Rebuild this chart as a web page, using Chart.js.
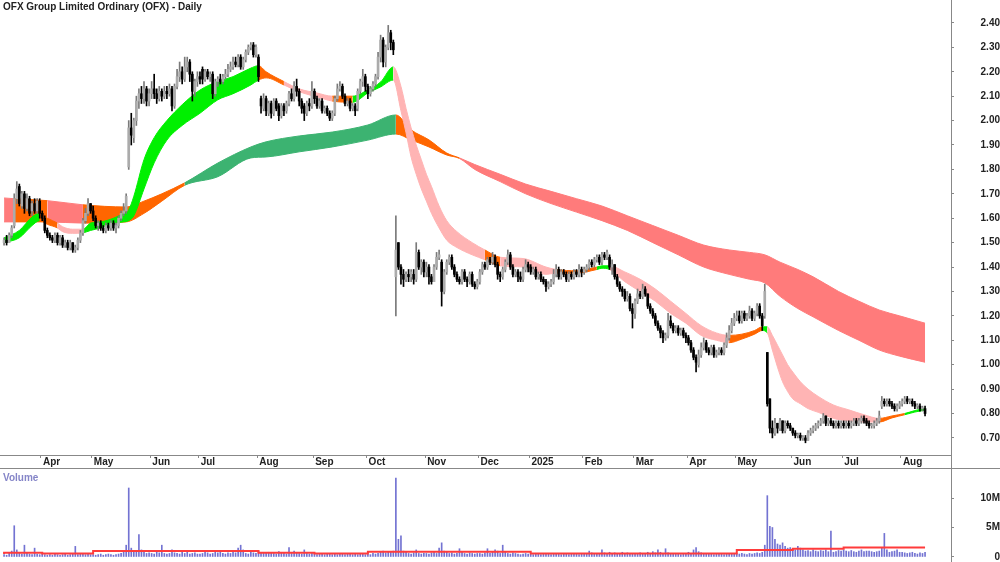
<!DOCTYPE html>
<html lang="en">

<head>
    <meta charset="UTF-8">
    <title>OFX Group Limited Ordinary (OFX) - Daily</title>
    <script src="https://cdn.jsdelivr.net/npm/chart.js"></script>
    <style>
        body { margin: 0; background: #fff; }
        #quadro { position: relative; width: 1000px; height: 562px; overflow: hidden; font-family: Arial, "Liberation Sans", sans-serif; }
        #grafico-preco { position: absolute; left: 0; top: 0; }
        #grafico-volume { position: absolute; left: 0; top: 469px; }
        .titulo { position: absolute; left: 3px; top: 1px; font-size: 10px; font-weight: bold; color: #222; white-space: nowrap; }
        .rotulo-volume { position: absolute; left: 3px; top: 472px; font-size: 10px; font-weight: bold; color: #8585c8; }
    </style>
</head>

<body>
    <div id="quadro">
        <canvas id="grafico-preco" width="1000" height="469"></canvas>
        <canvas id="grafico-volume" width="1000" height="93"></canvas>
        <div class="titulo">OFX Group Limited Ordinary (OFX) - Daily</div>
        <div class="rotulo-volume">Volume</div>
    </div>
</body>

</html>

<script>

    // x axis: one step per trading day, first bar is 8 Mar 2024
    const monthLabels = ['Apr', 'May', 'Jun', 'Jul', 'Aug', 'Sep', 'Oct', 'Nov', 'Dec', '2025', 'Feb', 'Mar', 'Apr', 'May', 'Jun', 'Jul', 'Aug'];
    const monthStarts = [15, 35, 58, 77, 100, 122, 143, 166, 187, 207, 228, 248, 269, 288, 310, 330, 353];
    const priceTicks = [0.7, 0.8, 0.9, 1.0, 1.1, 1.2, 1.3, 1.4, 1.5, 1.6, 1.7, 1.8, 1.9, 2.0, 2.1, 2.2, 2.3, 2.4];
    const volumeTicks = [0, 5, 10]; // millions

    // daily prices in cents, one row per month
    const opens = [
        150, 151, 150, 153, 157, 168, 173, 165, 170, 164, 168, 163, 166, 163, 167,
        162, 160, 155, 153, 152, 151, 153, 150, 152, 149, 150, 148, 150, 147, 148, 151, 154, 159, 162, 166,
        163, 160, 157, 158, 156, 155, 157, 156, 158, 156, 157, 160, 162, 163, 181, 197, 193, 200, 208, 211, 209, 213, 208,
        211, 213, 211, 209, 212, 210, 212, 211, 213, 206, 214, 218, 220, 217, 222, 224, 219, 212, 216,
        218, 221, 217, 220, 218, 219, 211, 216, 217, 216, 218, 219, 221, 222, 224, 223, 226, 222, 225, 228, 230, 231, 227,
        226, 209, 205, 209, 203, 207, 203, 208, 206, 202, 206, 204, 207, 211, 209, 214, 212, 208, 206, 203, 207, 206,
        212, 209, 206, 208, 204, 205, 203, 201, 203, 209, 213, 214, 210, 207, 208, 205, 206, 205, 212, 216, 218,
        214, 211, 213, 215, 218, 226, 233, 224, 230, 236, 232, 136, 150, 140, 137, 135, 137, 136, 137, 135, 146, 140, 142,
        138, 140, 136, 134, 140, 144, 142, 130, 138, 142, 144, 140, 137, 135, 134, 138, 135, 134, 137, 133, 132,
        134, 138, 141, 140, 143, 142, 144, 141, 137, 136, 139, 142, 145, 140, 137, 138, 136, 135, 139, 141,
        140, 138, 139, 136, 137, 135, 134, 132, 133, 134, 137, 139, 136, 138, 137, 135, 137, 136, 138, 137, 139,
        138, 139, 140, 142, 141, 143, 144, 142, 145, 144, 144, 140, 141, 136, 133, 131, 130, 127, 128, 123,
        121, 126, 129, 128, 131, 129, 124, 122, 120, 117, 115, 113, 111, 112, 118, 116, 114, 115, 113, 114, 112,
        111, 109, 106, 103, 100, 104, 107, 109, 106, 105, 107, 104, 105, 106, 105, 108, 111, 114, 117,
        119, 120, 118, 121, 119, 120, 122, 119, 121, 124, 120, 120, 105, 86, 74, 72, 76, 74, 77, 73, 76, 75,
        74, 72, 71, 71, 70, 70, 69, 72, 73, 74, 75, 76, 77, 79, 76, 77, 76, 75, 76, 75,
        76, 75, 76, 75, 76, 77, 76, 77, 78, 77, 76, 75, 75, 76, 77, 83, 85, 84, 85, 84, 83, 82, 83,
        84, 85, 86, 85, 85, 84, 83, 83, 82, 82
    ];
    const highs = [
        152, 153, 154, 157, 170, 175, 174, 171, 171, 170, 169, 167, 168, 168, 168,
        163, 161, 156, 154, 153, 154, 154, 153, 153, 151, 151, 151, 150, 149, 152, 155, 160, 164, 168, 166,
        165, 161, 159, 159, 157, 158, 158, 159, 159, 158, 161, 163, 166, 170, 200, 203, 201, 210, 213, 214, 216, 214, 213,
        216, 219, 213, 214, 213, 214, 214, 215, 214, 215, 221, 224, 222, 226, 226, 225, 220, 217, 220,
        220, 222, 221, 221, 220, 220, 217, 218, 219, 219, 221, 223, 224, 226, 226, 227, 227, 226, 229, 231, 232, 232, 231,
        227, 210, 211, 210, 208, 208, 209, 209, 207, 207, 207, 208, 212, 213, 216, 217, 213, 209, 207, 208, 209, 216,
        213, 210, 209, 209, 206, 206, 204, 204, 210, 215, 216, 215, 211, 209, 209, 207, 207, 213, 217, 221, 219,
        215, 214, 216, 219, 228, 235, 234, 231, 239, 237, 233, 161, 150, 141, 139, 138, 139, 139, 139, 150, 147, 143, 143,
        142, 141, 137, 141, 146, 147, 143, 139, 143, 145, 145, 141, 138, 136, 139, 139, 136, 138, 138, 134, 135,
        139, 142, 142, 144, 144, 146, 145, 142, 138, 140, 143, 147, 146, 141, 139, 139, 138, 140, 143, 142,
        141, 140, 140, 138, 138, 136, 135, 134, 135, 139, 141, 140, 139, 139, 138, 138, 138, 139, 139, 141, 140,
        140, 141, 143, 143, 144, 145, 145, 146, 146, 147, 145, 143, 141, 137, 134, 132, 131, 130, 129, 125,
        127, 131, 130, 133, 132, 129, 125, 123, 121, 118, 116, 114, 113, 121, 120, 117, 116, 116, 115, 115, 113,
        112, 110, 107, 104, 106, 109, 111, 110, 107, 108, 108, 106, 107, 107, 109, 113, 116, 119, 121,
        122, 122, 122, 122, 121, 124, 123, 122, 125, 125, 121, 133, 105, 86, 77, 78, 76, 78, 77, 77, 77, 76,
        74, 73, 72, 72, 71, 71, 73, 74, 75, 76, 77, 78, 80, 79, 78, 78, 77, 77, 77, 77,
        77, 77, 77, 77, 78, 78, 78, 79, 79, 78, 77, 76, 77, 78, 81, 87, 86, 86, 86, 85, 84, 84, 85,
        86, 87, 87, 86, 86, 85, 84, 84, 83, 83
    ];
    const lows = [
        149, 149, 150, 152, 156, 166, 165, 164, 162, 163, 161, 161, 162, 162, 160,
        159, 154, 152, 151, 150, 150, 149, 149, 148, 148, 147, 147, 146, 146, 147, 150, 153, 158, 161, 162,
        159, 156, 155, 155, 154, 154, 155, 155, 155, 154, 156, 159, 161, 162, 180, 190, 191, 198, 205, 207, 207, 206, 206,
        209, 209, 207, 208, 208, 209, 209, 210, 204, 205, 213, 216, 215, 216, 220, 216, 208, 210, 214,
        215, 215, 216, 217, 216, 209, 210, 214, 215, 215, 217, 218, 220, 221, 222, 222, 221, 221, 224, 227, 229, 226, 226,
        216, 203, 204, 202, 202, 201, 202, 204, 200, 201, 202, 203, 206, 208, 208, 210, 206, 203, 200, 202, 204, 205,
        207, 205, 205, 203, 203, 202, 200, 200, 202, 208, 212, 209, 206, 206, 204, 204, 202, 204, 211, 214, 212,
        209, 210, 212, 214, 217, 224, 222, 222, 229, 229, 227, 120, 139, 133, 132, 134, 134, 134, 133, 134, 139, 137, 136,
        136, 133, 133, 134, 139, 143, 124, 129, 137, 141, 139, 136, 134, 133, 133, 134, 132, 133, 132, 131, 131,
        133, 137, 139, 139, 141, 141, 140, 135, 134, 135, 138, 141, 139, 136, 136, 134, 134, 134, 138, 138,
        137, 137, 135, 135, 134, 133, 130, 131, 132, 133, 136, 135, 135, 136, 134, 134, 135, 135, 136, 136, 136,
        137, 138, 139, 140, 140, 142, 141, 141, 143, 143, 139, 137, 135, 132, 130, 128, 126, 126, 122, 115,
        119, 125, 127, 127, 128, 123, 121, 119, 116, 114, 111, 109, 110, 111, 115, 113, 113, 112, 112, 111, 109,
        108, 105, 102, 97, 99, 103, 106, 105, 104, 104, 103, 103, 104, 104, 104, 107, 110, 113, 116,
        118, 117, 117, 118, 118, 119, 118, 118, 120, 119, 114, 119, 83, 72, 70, 71, 72, 73, 72, 72, 74, 73,
        71, 70, 70, 69, 69, 68, 69, 71, 72, 73, 74, 75, 76, 75, 75, 75, 74, 74, 74, 74,
        74, 74, 74, 74, 75, 75, 75, 76, 76, 75, 74, 74, 74, 75, 76, 82, 83, 83, 83, 82, 81, 81, 82,
        83, 84, 84, 84, 83, 82, 82, 81, 81, 79
    ];
    const closes = [
        151, 150, 153, 156, 168, 172, 166, 170, 164, 168, 162, 166, 163, 167, 162,
        160, 155, 153, 152, 151, 153, 150, 152, 149, 150, 148, 150, 147, 148, 151, 154, 159, 162, 166, 163,
        160, 157, 158, 156, 155, 157, 156, 158, 156, 157, 160, 162, 163, 169, 197, 194, 200, 208, 211, 209, 213, 208, 211,
        213, 211, 209, 212, 210, 212, 211, 213, 206, 214, 218, 220, 217, 222, 224, 219, 212, 216, 218,
        217, 217, 220, 218, 219, 211, 216, 217, 216, 218, 219, 221, 222, 224, 223, 226, 222, 225, 228, 230, 231, 227, 230,
        218, 206, 209, 204, 207, 203, 208, 205, 202, 206, 204, 207, 211, 209, 214, 212, 208, 205, 203, 207, 206, 212,
        209, 206, 208, 204, 205, 203, 201, 203, 209, 213, 214, 210, 207, 208, 205, 206, 204, 212, 216, 218, 214,
        211, 213, 215, 218, 226, 233, 224, 230, 236, 232, 229, 147, 140, 137, 135, 137, 136, 138, 135, 146, 140, 142, 138,
        140, 136, 134, 140, 144, 145, 130, 138, 142, 144, 140, 137, 135, 134, 138, 135, 134, 137, 133, 132, 134,
        138, 141, 140, 143, 142, 144, 141, 137, 136, 139, 142, 145, 140, 137, 138, 136, 135, 139, 141, 140,
        138, 139, 136, 137, 135, 134, 132, 133, 134, 137, 139, 136, 138, 137, 135, 137, 136, 138, 137, 139, 138,
        139, 140, 142, 141, 143, 144, 142, 145, 144, 146, 140, 141, 136, 133, 131, 130, 127, 128, 123, 121,
        126, 129, 128, 131, 129, 124, 122, 120, 117, 115, 113, 111, 112, 118, 116, 114, 115, 113, 114, 112, 111,
        109, 106, 103, 101, 104, 107, 109, 106, 105, 107, 104, 105, 106, 105, 108, 111, 114, 117, 119,
        120, 118, 121, 119, 120, 122, 119, 121, 124, 120, 116, 130, 84, 74, 72, 76, 74, 77, 73, 76, 75, 74,
        72, 71, 71, 70, 70, 69, 72, 73, 74, 75, 76, 77, 79, 76, 77, 76, 75, 76, 75, 76,
        75, 76, 75, 76, 77, 76, 77, 78, 77, 76, 75, 75, 76, 77, 79, 85, 84, 85, 84, 83, 82, 83, 84,
        85, 86, 85, 85, 84, 83, 83, 82, 82, 80
    ];

    // daily volume in millions
    const volumes = [
        0.4, 0.3, 0.6, 1.0, 5.3, 1.2, 0.7, 0.5, 2.0, 0.6, 0.5, 0.4, 1.5, 0.5, 0.4,
        0.5, 0.4, 0.3, 0.4, 0.3, 0.5, 0.4, 0.3, 0.4, 0.6, 0.3, 0.4, 0.5, 1.8, 0.4, 0.5, 0.6, 0.4, 0.5, 0.4,
        0.4, 0.3, 0.4, 0.5, 0.3, 0.4, 0.5, 0.4, 0.3, 0.4, 0.5, 0.6, 0.8, 2.0, 11.7, 1.5, 0.8, 1.0, 3.8, 1.2, 0.8, 0.6, 0.7,
        0.6, 0.5, 0.8, 0.7, 2.0, 0.6, 0.5, 0.6, 1.2, 0.7, 0.6, 0.5, 0.8, 0.6, 1.0, 0.5, 0.6, 0.7, 0.5,
        0.5, 0.6, 0.8, 0.7, 0.5, 0.6, 0.9, 0.7, 0.8, 0.6, 0.5, 0.7, 0.6, 0.8, 0.7, 1.5, 2.0, 1.2, 0.6, 0.5, 0.8, 0.7, 0.6,
        1.0, 0.8, 0.7, 0.6, 0.8, 0.7, 0.6, 0.5, 0.9, 0.7, 0.6, 0.5, 1.6, 0.6, 1.0, 0.7, 0.6, 0.5, 1.2, 0.6, 0.5, 0.6,
        0.5, 0.4, 0.6, 0.5, 0.4, 0.5, 0.6, 0.4, 0.5, 0.4, 0.6, 0.5, 0.4, 0.5, 0.6, 0.4, 0.5, 0.4, 0.5, 0.6, 0.4,
        0.5, 0.4, 0.6, 0.5, 0.6, 0.8, 1.0, 0.7, 0.9, 0.8, 1.0, 13.4, 3.0, 3.6, 1.0, 0.8, 0.6, 0.5, 0.7, 1.2, 0.6, 0.5, 0.6,
        0.6, 0.5, 0.7, 0.8, 0.6, 1.5, 2.4, 1.0, 0.8, 0.6, 0.7, 0.5, 0.6, 1.4, 0.8, 0.6, 0.5, 0.7, 0.6, 0.5, 0.6,
        0.6, 0.5, 0.7, 1.4, 0.6, 0.8, 1.2, 1.0, 0.6, 2.0, 0.8, 0.6, 0.5, 0.7, 0.6, 0.5, 0.4, 0.5, 0.6, 0.5,
        0.5, 0.4, 0.6, 0.5, 0.4, 0.5, 0.6, 0.5, 0.4, 0.5, 0.6, 0.5, 0.4, 0.6, 0.5, 0.4, 0.5, 0.6, 0.5, 0.4, 0.5,
        0.6, 0.5, 1.0, 0.7, 0.6, 0.5, 0.6, 1.2, 0.7, 0.6, 0.8, 0.6, 0.7, 0.6, 0.5, 0.8, 0.6, 0.7, 0.6, 0.5,
        0.6, 0.5, 0.7, 0.6, 0.5, 0.8, 0.6, 0.9, 0.7, 1.2, 0.8, 0.6, 1.4, 0.7, 0.6, 0.5, 0.6, 0.5, 0.4, 0.5, 0.6,
        0.8, 0.6, 1.2, 1.6, 0.9, 0.7, 0.6, 0.5, 0.6, 0.5, 0.4, 0.5, 0.6, 0.5, 0.4, 0.5, 0.6, 0.5, 0.6,
        0.6, 0.5, 0.6, 0.5, 0.4, 0.6, 0.5, 0.6, 0.7, 0.6, 0.8, 2.0, 10.4, 5.2, 5.0, 3.0, 2.2, 2.0, 2.4, 1.8, 1.5, 1.6,
        1.4, 1.2, 1.8, 1.5, 1.2, 1.0, 1.1, 0.9, 1.2, 1.0, 0.9, 1.1, 1.0, 1.2, 0.9, 4.4, 0.8, 0.9, 1.1, 1.0,
        1.2, 1.0, 0.9, 1.1, 0.9, 0.8, 1.0, 1.2, 0.9, 1.0, 1.0, 0.9, 0.8, 0.9, 1.0, 1.5, 4.0, 1.2, 0.8, 0.9, 1.0, 1.2, 0.8,
        0.8, 0.7, 0.6, 0.7, 0.8, 0.6, 0.5, 0.7, 0.6, 0.8
    ];

    // average volume, stepped at each month
    const avgVolX = [0, 15, 35, 58, 77, 100, 122, 143, 166, 187, 207, 228, 248, 269, 288, 310, 330, 353, 362];
    const avgVol = [0.5, 0.7, 0.6, 1.0, 1.0, 1.0, 0.7, 0.6, 0.9, 0.9, 0.9, 0.6, 0.6, 0.6, 0.6, 1.2, 1.4, 1.6, 1.6];

    // short term average ribbon (g = up, o = mixed, p = down)
    const shortX = [0, 6, 11, 14, 17, 21, 23, 27, 31, 34,
        38, 43, 47, 49, 51, 55, 59, 64, 70, 77,
        84, 90, 97, 100, 103, 110, 116, 123, 129, 137,
        143, 148, 153, 156, 158, 160, 162, 164, 166, 168,
        171, 174, 178, 184, 189, 195, 204, 213, 217, 225,
        233, 235, 238, 244, 250, 256, 262, 268, 274, 280,
        285, 290, 295, 298, 300, 302, 304, 306, 308, 310,
        313, 316, 320, 326, 332, 338, 344, 349, 354, 358, 362];
    const shortHi = [1.52, 1.55, 1.605, 1.62, 1.60, 1.58, 1.565, 1.555, 1.555, 1.58,
        1.585, 1.60, 1.62, 1.635, 1.69, 1.84, 1.93, 2.00, 2.065, 2.125,
        2.16, 2.18, 2.215, 2.225, 2.20, 2.16, 2.13, 2.113, 2.10, 2.10,
        2.126, 2.158, 2.22, 2.14, 2.05, 1.97, 1.90, 1.84, 1.78, 1.73,
        1.65, 1.59, 1.545, 1.50, 1.47, 1.44, 1.435, 1.40, 1.39, 1.385,
        1.40, 1.405, 1.405, 1.38, 1.35, 1.31, 1.26, 1.21, 1.16, 1.13,
        1.12, 1.125, 1.14, 1.155, 1.155, 1.12, 1.08, 1.04, 1.00, 0.97,
        0.93, 0.90, 0.87, 0.835, 0.815, 0.795, 0.78, 0.79, 0.80, 0.812, 0.822];
    const shortLo = [1.50, 1.52, 1.57, 1.59, 1.575, 1.56, 1.545, 1.538, 1.54, 1.55,
        1.56, 1.58, 1.585, 1.59, 1.61, 1.72, 1.827, 1.92, 1.98, 2.03,
        2.085, 2.11, 2.146, 2.166, 2.175, 2.146, 2.118, 2.097, 2.08, 2.075,
        2.113, 2.138, 2.166, 2.04, 1.95, 1.85, 1.78, 1.72, 1.67, 1.62,
        1.56, 1.51, 1.48, 1.45, 1.43, 1.405, 1.40, 1.37, 1.375, 1.375,
        1.39, 1.395, 1.39, 1.34, 1.30, 1.26, 1.21, 1.17, 1.12, 1.10,
        1.09, 1.105, 1.125, 1.14, 1.13, 1.06, 0.99, 0.93, 0.89, 0.86,
        0.84, 0.82, 0.805, 0.78, 0.77, 0.765, 0.765, 0.782, 0.795, 0.806, 0.814];
    const shortState = ['g', 'g', 'g', 'o', 'o', 'p', 'p', 'p', 'g', 'g',
        'g', 'g', 'g', 'g', 'g', 'g', 'g', 'g', 'g', 'g',
        'g', 'g', 'g', 'o', 'o', 'p', 'p', 'p', 'o', 'g',
        'g', 'g', 'p', 'p', 'p', 'p', 'p', 'p', 'p', 'p',
        'p', 'p', 'p', 'p', 'o', 'p', 'p', 'p', 'o', 'o',
        'g', 'g', 'p', 'p', 'p', 'p', 'p', 'p', 'p', 'p',
        'o', 'o', 'o', 'g', 'p', 'p', 'p', 'p', 'p', 'p',
        'p', 'p', 'p', 'p', 'p', 'p', 'o', 'o', 'g', 'g', 'g'];

    // long term average ribbon (d = up, o = mixed, r = down)
    const longX = [0, 4, 17, 31, 48, 55, 62, 71, 84, 97,
        103, 116, 129, 143, 154, 160, 167, 174, 179, 185,
        195, 205, 215, 225, 235, 245, 255, 265, 275, 285,
        293, 299, 305, 312, 318, 328, 336, 344, 352, 362];
    const longHi = [1.683, 1.68, 1.672, 1.655, 1.646, 1.67, 1.70, 1.745, 1.826, 1.892,
        1.913, 1.937, 1.953, 1.982, 2.023, 1.962, 1.921, 1.867, 1.847, 1.82,
        1.78, 1.74, 1.71, 1.68, 1.65, 1.61, 1.57, 1.53, 1.49, 1.47,
        1.46, 1.45, 1.42, 1.39, 1.36, 1.30, 1.26, 1.224, 1.20, 1.17];
    const longLo = [1.585, 1.585, 1.585, 1.58, 1.585, 1.62, 1.67, 1.735, 1.77, 1.847,
        1.851, 1.872, 1.892, 1.92, 1.945, 1.921, 1.892, 1.859, 1.845, 1.80,
        1.75, 1.70, 1.66, 1.625, 1.59, 1.55, 1.50, 1.45, 1.40, 1.37,
        1.35, 1.335, 1.28, 1.23, 1.196, 1.14, 1.10, 1.06, 1.035, 1.01];
    const longState = ['r', 'o', 'r', 'o', 'o', 'o', 'o', 'd', 'd', 'd',
        'd', 'd', 'd', 'd', 'o', 'o', 'o', 'o', 'r', 'r',
        'r', 'r', 'r', 'r', 'r', 'r', 'r', 'r', 'r', 'r',
        'r', 'r', 'r', 'r', 'r', 'r', 'r', 'r', 'r', 'r'];

    const coresFaixa = { g: '#00f000', o: '#ff6600', p: '#ffb4b4', d: '#3cb371', r: '#ff7b7b' };

    Chart.defaults.font.family = 'Arial, "Liberation Sans", sans-serif';
    Chart.defaults.font.size = 10;
    Chart.defaults.font.weight = 'bold';
    Chart.defaults.color = '#222';

    const xMin = -1.6;
    const xMax = 372.2;

    // fixed axis size, and no extra room kept for the end labels
    function tamanhoFixo(largura, altura) {
        return function (scale) {
            if (largura !== null) scale.width = largura;
            if (altura !== null) scale.height = altura;
            scale.paddingTop = 0;
            scale.paddingBottom = 0;
            scale.paddingLeft = 0;
            scale.paddingRight = 0;
        };
    }

    // lines that close the frame outside the plot areas
    const linhasMoldura = {
        id: 'linhasMoldura',
        afterDraw(chart, args, opts) {
            const ctx = chart.ctx;
            const area = chart.chartArea;
            ctx.save();
            ctx.strokeStyle = '#888';
            ctx.lineWidth = 1;
            ctx.beginPath();
            ctx.moveTo(area.right + 0.5, 0);
            ctx.lineTo(area.right + 0.5, chart.height);
            if (opts.base) {
                ctx.moveTo(0, chart.height - 0.5);
                ctx.lineTo(chart.width, chart.height - 0.5);
            }
            ctx.stroke();
            ctx.restore();
        }
    };

    function montaFaixa(xs, ys, states, fill, order) {
        return {
            type: 'line',
            data: xs.map((x, i) => ({ x: x, y: ys[i] })),
            fill: fill,
            order: order,
            borderWidth: 1,
            pointRadius: 0,
            cubicInterpolationMode: 'monotone',
            segment: {
                borderColor: ctx => coresFaixa[states[ctx.p0DataIndex]],
                backgroundColor: ctx => coresFaixa[states[ctx.p0DataIndex]]
            }
        };
    }

    montaGraficoPreco();
    montaGraficoVolume();

    function montaGraficoPreco() {
        const sobe = closes.map((c, i) => c >= opens[i]);

        const pavios = {
            type: 'bar',
            data: closes.map((c, i) => ({ x: i, y: [lows[i] / 100, highs[i] / 100] })),
            backgroundColor: sobe.map(s => s ? '#7a7a7a' : '#000000'),
            barThickness: 1,
            grouped: false,
            order: 2
        };

        const corpos = {
            type: 'bar',
            data: closes.map((c, i) => ({ x: i, y: [opens[i] / 100, c / 100] })),
            backgroundColor: sobe.map(s => s ? '#ababab' : '#000000'),
            barThickness: 2,
            minBarLength: 1,
            grouped: false,
            order: 1
        };

        let ctx = document.getElementById('grafico-preco').getContext('2d');

        new Chart(ctx, {
            type: 'bar',
            data: {
                datasets: [
                    montaFaixa(longX, longHi, longState, '+1', 4),
                    montaFaixa(longX, longLo, longState, false, 4),
                    montaFaixa(shortX, shortHi, shortState, '+1', 3),
                    montaFaixa(shortX, shortLo, shortState, false, 3),
                    pavios,
                    corpos
                ]
            },
            options: {
                responsive: false,
                animation: false,
                devicePixelRatio: 1,
                layout: { padding: 0, autoPadding: false },
                plugins: {
                    legend: { display: false },
                    tooltip: { enabled: false },
                    linhasMoldura: { base: true }
                },
                scales: {
                    x: {
                        type: 'linear',
                        min: xMin,
                        max: xMax,
                        offset: false,
                        afterFit: tamanhoFixo(null, 14),
                        afterBuildTicks: scale => { scale.ticks = monthStarts.map(v => ({ value: v - 0.5 })); },
                        ticks: {
                            autoSkip: false,
                            maxRotation: 0,
                            align: 'start',
                            labelOffset: 2,
                            padding: -2,
                            callback: (value, index) => monthLabels[index]
                        },
                        grid: { drawOnChartArea: false, offset: false, tickLength: 3, color: '#888' },
                        border: { color: '#888' }
                    },
                    y: {
                        type: 'linear',
                        position: 'right',
                        min: 0.630,
                        max: 2.494,
                        afterFit: tamanhoFixo(49, null),
                        afterBuildTicks: scale => { scale.ticks = priceTicks.map(v => ({ value: v })); },
                        ticks: {
                            crossAlign: 'far',
                            padding: 24,
                            callback: v => v.toFixed(2)
                        },
                        grid: { drawOnChartArea: false, tickLength: 3, color: '#888' },
                        border: { color: '#888' }
                    }
                }
            },
            plugins: [linhasMoldura]
        });
    }

    function montaGraficoVolume() {
        let ctx = document.getElementById('grafico-volume').getContext('2d');

        new Chart(ctx, {
            type: 'bar',
            data: {
                datasets: [
                    {
                        type: 'line',
                        data: avgVolX.map((x, i) => ({ x: x, y: avgVol[i] })),
                        stepped: 'after',
                        borderColor: '#ff3b3b',
                        borderWidth: 2,
                        pointRadius: 0,
                        order: 0
                    },
                    {
                        type: 'bar',
                        data: volumes.map((v, i) => ({ x: i, y: v })),
                        backgroundColor: '#7373d2',
                        barThickness: 1,
                        grouped: false,
                        order: 1
                    }
                ]
            },
            options: {
                responsive: false,
                animation: false,
                devicePixelRatio: 1,
                layout: { padding: 0, autoPadding: false },
                plugins: {
                    legend: { display: false },
                    tooltip: { enabled: false },
                    linhasMoldura: { base: false }
                },
                scales: {
                    x: {
                        type: 'linear',
                        min: xMin,
                        max: xMax,
                        offset: false,
                        display: false,
                        ticks: { display: false },
                        grid: { offset: false },
                        afterFit: tamanhoFixo(null, 0)
                    },
                    y: {
                        type: 'linear',
                        position: 'right',
                        min: -0.85,
                        max: 14.92,
                        afterFit: tamanhoFixo(49, null),
                        afterBuildTicks: scale => { scale.ticks = volumeTicks.map(v => ({ value: v })); },
                        ticks: {
                            crossAlign: 'far',
                            padding: 24,
                            callback: v => v === 0 ? '0' : v + 'M'
                        },
                        grid: { drawOnChartArea: false, tickLength: 3, color: '#888' },
                        border: { color: '#888' }
                    }
                }
            },
            plugins: [linhasMoldura]
        });
    }

</script>
